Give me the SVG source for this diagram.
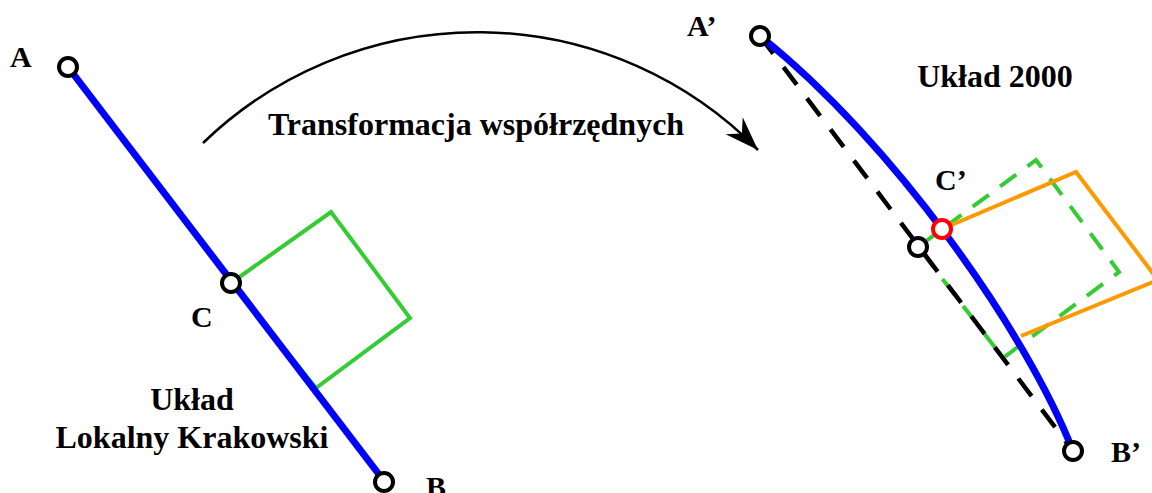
<svg xmlns="http://www.w3.org/2000/svg" width="1152" height="493" viewBox="0 0 1152 493">
<style>
.lbl{font-family:"Liberation Serif","Times New Roman",serif;font-weight:bold;font-size:30px;fill:#000}
.big{font-size:32px}
.pt{fill:#fff;stroke:#000;stroke-width:4}
.blue{fill:none;stroke:#0000ff;stroke-width:7;stroke-linecap:butt}
.green{fill:none;stroke:#33cc33;stroke-width:4}
.orange{fill:none;stroke:#ff9900;stroke-width:4}
</style>
<defs>
<marker id="arr" markerUnits="userSpaceOnUse" markerWidth="40" markerHeight="30" refX="34" refY="13" orient="auto" overflow="visible">
<path d="M0,1 L34,13 L0,25 L11,13 z" fill="#000"/>
</marker>
</defs>
<rect width="1152" height="493" fill="#fff"/>
<g id="connectors">
<path id="square-left" class="green" d="M231,283 L331,212 L410,318 L316,388 Z"/>
<line id="line-AB" class="blue" x1="68" y1="67" x2="384" y2="481"/>
<path id="transform-arrow" d="M203,143 A394,394 0 0 1 758,150" fill="none" stroke="#000" stroke-width="2.5" marker-end="url(#arr)"/>
<path id="square-green-dashed" class="green" stroke-dasharray="20,14" d="M918,247 L1036,160 L1119,272 L1003,358 Z"/>
<line id="chord-AB" x1="760" y1="36" x2="1073" y2="451" stroke="#000" stroke-width="4.5" stroke-dasharray="22,17"/>
<path id="curve-AB" class="blue" d="M760,36 C893,142 1026,331 1073,451"/>
<polyline id="square-orange" class="orange" points="942,229 1076,172 1158,280 1021,336"/>
</g>
<g id="node-A"><circle class="pt" cx="68" cy="67" r="9"/><text class="lbl" x="10" y="67">A</text></g>
<g id="node-C"><circle class="pt" cx="231" cy="283" r="9"/><text class="lbl" x="191" y="327">C</text></g>
<g id="node-B"><circle class="pt" cx="384" cy="482" r="9"/><text class="lbl" x="426" y="497">B</text></g>
<g id="label-left"><text class="lbl big" x="192" y="410" text-anchor="middle">Układ</text><text class="lbl big" x="192" y="448" text-anchor="middle">Lokalny Krakowski</text></g>
<g id="label-transform"><text class="lbl big" x="476" y="135" text-anchor="middle">Transformacja współrzędnych</text></g>
<g id="label-right"><text class="lbl big" x="995" y="87" text-anchor="middle">Układ 2000</text></g>
<g id="node-A2"><circle class="pt" cx="760" cy="36" r="9"/><text class="lbl" x="687" y="36">A’</text></g>
<g id="node-Cmid"><circle class="pt" cx="918" cy="247" r="9"/></g>
<g id="node-C2"><circle cx="942" cy="229" r="9" fill="#fff" stroke="#ff0000" stroke-width="4"/><text class="lbl" x="935" y="190">C’</text></g>
<g id="node-B2"><circle class="pt" cx="1073" cy="451" r="9"/><text class="lbl" x="1111" y="462">B’</text></g>
</svg>
